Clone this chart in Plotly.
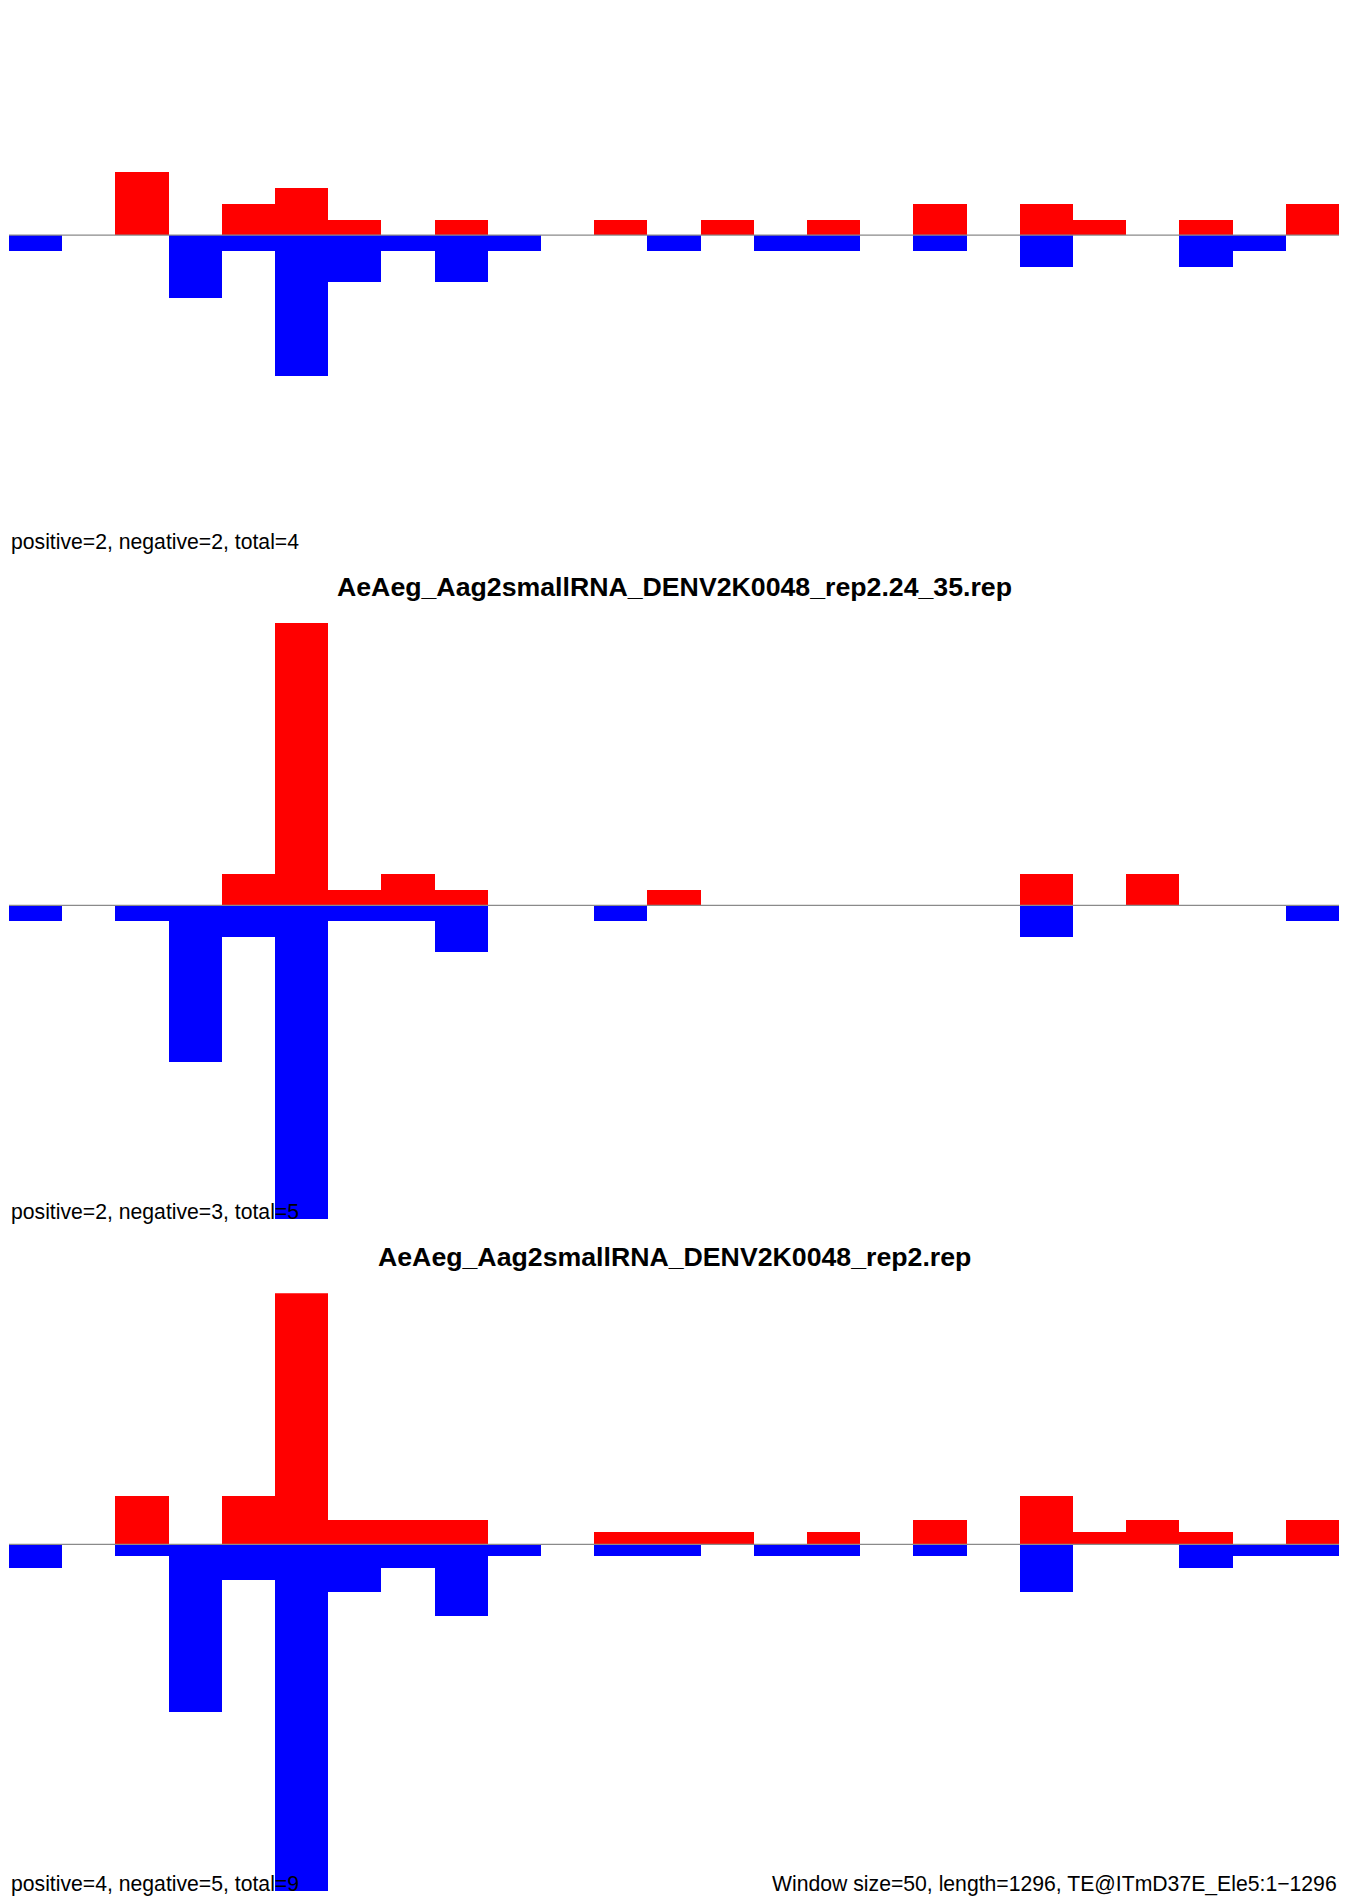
import plotly.graph_objects as go

# ---- data ----
WINDOW = 50
LENGTH = 1296

# panel 1 (top, title cropped off)
positive_1 = [0, 0, 4, 0, 2, 3, 1, 0, 1, 0, 0, 1, 0, 1, 0, 1, 0, 2, 0, 2, 1, 0, 1, 0, 2]
negative_1 = [1, 0, 0, 4, 1, 9, 3, 1, 3, 1, 0, 0, 1, 0, 1, 1, 0, 1, 0, 2, 0, 0, 2, 1, 0]

# panel 2: rep2.24_35
positive_2 = [0, 0, 0, 0, 2, 18, 1, 2, 1, 0, 0, 0, 1, 0, 0, 0, 0, 0, 0, 2, 0, 2, 0, 0, 0]
negative_2 = [1, 0, 1, 10, 2, 20, 1, 1, 3, 0, 0, 1, 0, 0, 0, 0, 0, 0, 0, 2, 0, 0, 0, 0, 1]

# panel 3: rep2 (all)
positive_3 = [0, 0, 4, 0, 4, 21, 2, 2, 2, 0, 0, 1, 1, 1, 0, 1, 0, 2, 0, 4, 1, 2, 1, 0, 2]
negative_3 = [2, 0, 1, 14, 3, 29, 4, 2, 6, 1, 0, 1, 1, 0, 1, 1, 0, 1, 0, 4, 0, 0, 2, 1, 1]

panel_titles = [
    None,
    "AeAeg_Aag2smallRNA_DENV2K0048_rep2.24_35.rep",
    "AeAeg_Aag2smallRNA_DENV2K0048_rep2.rep",
]
count_labels = [
    "positive=2, negative=2, total=4",
    "positive=2, negative=3, total=5",
    "positive=4, negative=5, total=9",
]
footer_label = "Window size=50, length=1296, TE@ITmD37E_Ele5:1\u22121296"

# ---- layout constants ----
FONT = "Liberation Sans, Arial, Helvetica, sans-serif"
W, H = 1347, 1897
M_L, M_R, M_T, M_B = 9, 8, 0, 6
PH = H - M_T - M_B

# panel plot regions in pixels from top of plotting area
regions_px = [(0.0, 548.8), (623.1, 1218.9), (1293.2, 1891.0)]
y_ranges = [[-20, 15], [-20, 18], [-29, 21]]

def frac(px):
    return max(0.0, min(1.0, (PH - px) / PH))

positives = [positive_1, positive_2, positive_3]
negatives = [negative_1, negative_2, negative_3]

fig = go.Figure()
n_bins = len(positive_1)
centers = [WINDOW * i + WINDOW / 2 for i in range(n_bins)]

layout = dict(
    width=W, height=H,
    margin=dict(l=M_L, r=M_R, t=M_T, b=M_B, pad=0),
    paper_bgcolor="white", plot_bgcolor="white",
    showlegend=False, barmode="overlay", bargap=0,
    font=dict(family=FONT, color="black"),
)
annotations = []
shapes = []

for k in range(3):
    sfx = "" if k == 0 else str(k + 1)
    xa, ya = "x" + sfx, "y" + sfx
    fig.add_trace(go.Bar(
        x=centers, y=positives[k], width=[WINDOW] * n_bins,
        marker=dict(color="#FF0000", line=dict(width=0)),
        xaxis=xa, yaxis=ya, hoverinfo="skip",
    ))
    fig.add_trace(go.Bar(
        x=centers, y=[-v for v in negatives[k]], width=[WINDOW] * n_bins,
        marker=dict(color="#0000FF", line=dict(width=0)),
        xaxis=xa, yaxis=ya, hoverinfo="skip",
    ))
    top, bot = regions_px[k]
    layout["xaxis" + sfx] = dict(
        domain=[0, 1], anchor=ya, range=[0, WINDOW * n_bins],
        visible=False, showgrid=False, zeroline=False, fixedrange=True,
    )
    layout["yaxis" + sfx] = dict(
        domain=[frac(bot), frac(top)], anchor=xa, range=y_ranges[k],
        visible=False, showgrid=False, zeroline=False, fixedrange=True,
    )
    shapes.append(dict(
        type="line", xref=xa + " domain", yref=ya, x0=0, x1=1, y0=0, y1=0,
        line=dict(color="#8a8a8a", width=1.2), layer="above",
    ))
    annotations.append(dict(
        text=count_labels[k], xref=xa + " domain", yref=ya + " domain",
        x=0, y=0, xanchor="left", yanchor="bottom", showarrow=False,
        font=dict(size=21.2, family=FONT, color="black"), yshift=-7, xshift=0,
    ))
    if panel_titles[k]:
        annotations.append(dict(
            text="<b>" + panel_titles[k] + "</b>", xref=xa + " domain", yref=ya + " domain",
            x=0.5, y=1, xanchor="center", yanchor="middle", showarrow=False,
            font=dict(size=26.7, family=FONT, color="black"), yshift=36,
        ))

annotations.append(dict(
    text=footer_label, xref="x3 domain", yref="y3 domain",
    x=1, y=0, xanchor="right", yanchor="bottom", showarrow=False,
    font=dict(size=21.2, family=FONT, color="black"), yshift=-7,
))

layout["annotations"] = annotations
layout["shapes"] = shapes
fig.update_layout(**layout)

fig.write_html(
    "out.html",
    config={"displayModeBar": False, "staticPlot": True},
    post_script="document.body.style.margin='0';document.body.style.overflow='hidden';",
)
